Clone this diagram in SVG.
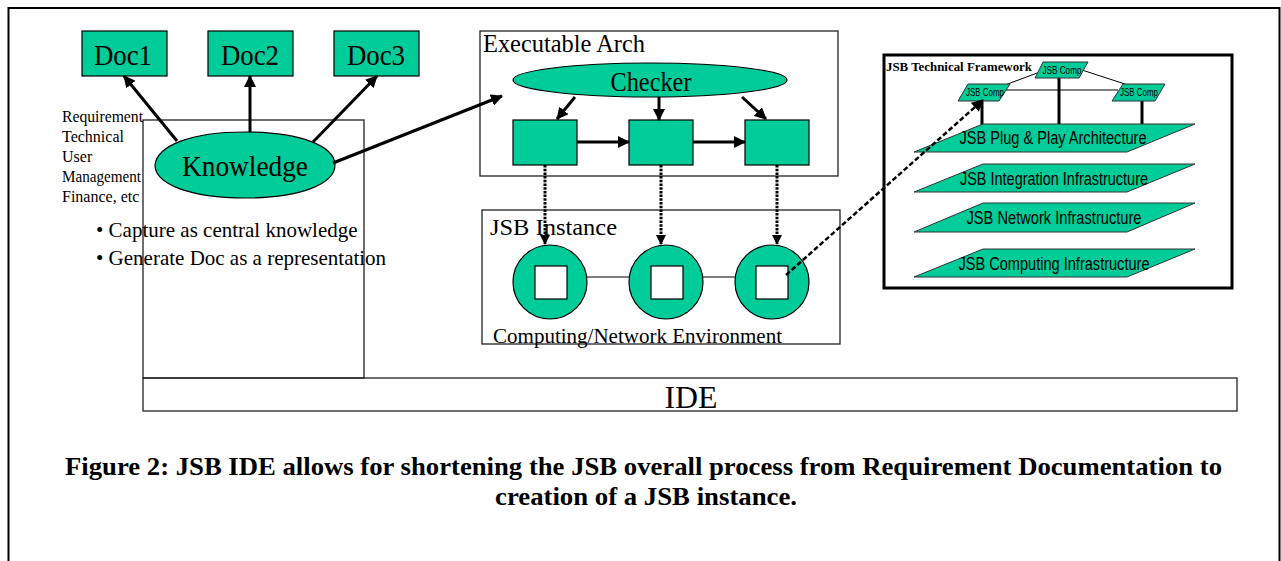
<svg xmlns="http://www.w3.org/2000/svg" width="1281" height="561" viewBox="0 0 1281 561">
<style>
.serif{font-family:"Liberation Serif","Times New Roman",serif;fill:#000}
.sans{font-family:"Liberation Sans",Arial,sans-serif;fill:#000}
.green{fill:#00CC99;stroke:#000;stroke-width:1.2}
.box{fill:none;stroke:#222;stroke-width:1.3}
.layer{fill:#00CC99;stroke:#333;stroke-width:1}
.arrow{stroke:#000;stroke-width:3;fill:none;marker-end:url(#ah)}
.dot{stroke:#000;stroke-width:3;fill:none;stroke-dasharray:2.5 1.2;marker-end:url(#ah2)}
.dash{stroke:#000;stroke-width:2.5;fill:none;stroke-dasharray:5 2.5;marker-end:url(#ah)}
.thin{stroke:#000;stroke-width:1;fill:none}
.thick{stroke:#000;stroke-width:3;fill:none}
</style>
<defs>
<marker id="ah" viewBox="0 0 12 12" refX="11" refY="6" markerWidth="12" markerHeight="12" markerUnits="userSpaceOnUse" orient="auto"><path d="M0,0 L12,6 L0,12 z" fill="#000"/></marker>
<marker id="ah2" viewBox="0 0 10 10" refX="9" refY="5" markerWidth="10" markerHeight="10" markerUnits="userSpaceOnUse" orient="auto"><path d="M0,0 L10,5 L0,10 z" fill="#000"/></marker>
</defs>
<rect width="1281" height="561" fill="#fff"/>
<path d="M8.5,561 V8 H1279.5 V561" fill="none" stroke="#000" stroke-width="2"/>

<g id="ide-left-box"><rect class="box" x="143" y="120" width="221" height="258"/></g>
<g id="ide"><rect class="box" x="143" y="378" width="1094" height="33"/>
<text class="serif" x="691" y="408" font-size="32" text-anchor="middle" textLength="53" lengthAdjust="spacingAndGlyphs">IDE</text></g>

<g id="doc1"><rect class="green" x="82" y="31" width="85" height="45"/><text class="serif" x="123" y="65" font-size="30" text-anchor="middle" textLength="58" lengthAdjust="spacingAndGlyphs">Doc1</text></g>
<g id="doc2"><rect class="green" x="208" y="31" width="85" height="45"/><text class="serif" x="250" y="65" font-size="30" text-anchor="middle" textLength="58" lengthAdjust="spacingAndGlyphs">Doc2</text></g>
<g id="doc3"><rect class="green" x="334" y="31" width="85" height="45"/><text class="serif" x="376" y="65" font-size="30" text-anchor="middle" textLength="58" lengthAdjust="spacingAndGlyphs">Doc3</text></g>

<g id="req-labels" class="serif" font-size="16">
<text x="62" y="122" textLength="81" lengthAdjust="spacingAndGlyphs">Requirement</text>
<text x="62" y="142">Technical</text>
<text x="62" y="162">User</text>
<text x="62" y="182" textLength="79" lengthAdjust="spacingAndGlyphs">Management</text>
<text x="62" y="202">Finance, etc</text>
</g>

<g id="knowledge"><path class="green" d="M155,165 C157,146 190,132 245,132 C300,132 335,146 335,165 C335,184 300,198 245,198 C190,198 155,184 155,165 Z"/>
<text class="serif" x="245" y="176" font-size="30" text-anchor="middle" textLength="126" lengthAdjust="spacingAndGlyphs">Knowledge</text></g>

<g id="bullets" class="serif" font-size="21">
<text x="96" y="237">• Capture as central knowledge</text>
<text x="96" y="265">• Generate Doc as a representation</text>
</g>

<g id="exec-arch"><rect class="box" x="480" y="31" width="358" height="145"/>
<text class="serif" x="483" y="52" font-size="25" textLength="162" lengthAdjust="spacingAndGlyphs">Executable Arch</text></g>
<g id="checker"><ellipse class="green" cx="650" cy="80" rx="137" ry="17"/>
<text class="serif" x="651" y="91" font-size="27" text-anchor="middle" textLength="81" lengthAdjust="spacingAndGlyphs">Checker</text></g>
<g id="comp1"><rect class="green" x="513" y="120" width="64" height="45"/></g>
<g id="comp2"><rect class="green" x="629" y="120" width="64" height="45"/></g>
<g id="comp3"><rect class="green" x="745" y="120" width="64" height="45"/></g>

<g id="jsb-instance"><rect class="box" x="482" y="210" width="358" height="134"/>
<text class="serif" x="490" y="235" font-size="24" textLength="127" lengthAdjust="spacingAndGlyphs">JSB Instance</text>
<line class="thin" x1="587" y1="277" x2="630" y2="277"/>
<line class="thin" x1="703" y1="277" x2="735" y2="277"/>
<text class="serif" x="493" y="343" font-size="21" textLength="289" lengthAdjust="spacingAndGlyphs">Computing/Network Environment</text></g>
<g id="node1"><circle class="green" cx="550" cy="282" r="37"/><rect x="535" y="266" width="32" height="33" fill="#fff" stroke="#000" stroke-width="1.2"/></g>
<g id="node2"><circle class="green" cx="666" cy="282" r="37"/><rect x="651" y="266" width="32" height="33" fill="#fff" stroke="#000" stroke-width="1.2"/></g>
<g id="node3"><circle class="green" cx="772" cy="282" r="37"/><rect x="756" y="266" width="32" height="33" fill="#fff" stroke="#000" stroke-width="1.2"/></g>

<g id="tech-framework">
<rect x="884" y="55" width="348" height="233" fill="none" stroke="#000" stroke-width="3"/>
<text class="serif" x="886" y="71" font-size="13" font-weight="bold" textLength="146" lengthAdjust="spacingAndGlyphs">JSB Technical Framework</text>
<line class="thin" x1="1040" y1="72" x2="1005" y2="85"/>
<line class="thin" x1="1082" y1="70" x2="1128" y2="85"/>
<line class="thin" x1="1004" y1="90" x2="1118" y2="90"/>
<line class="thick" x1="982" y1="100" x2="982" y2="125"/>
<line class="thick" x1="1059" y1="77" x2="1059" y2="125"/>
<line class="thick" x1="1142" y1="100" x2="1142" y2="125"/>
<g id="comp-top"><polygon class="layer" points="1043,62 1088,62 1079,78 1035,78"/><text class="sans" x="1062" y="74" font-size="10" text-anchor="middle" textLength="39" lengthAdjust="spacingAndGlyphs">JSB Comp</text></g>
<g id="comp-left"><polygon class="layer" points="968,84 1010,84 999,101 958,101"/><text class="sans" x="985" y="96" font-size="10" text-anchor="middle" textLength="38" lengthAdjust="spacingAndGlyphs">JSB Comp</text></g>
<g id="comp-right"><polygon class="layer" points="1123,84 1165,84 1155,101 1112,101"/><text class="sans" x="1139" y="96" font-size="10" text-anchor="middle" textLength="38" lengthAdjust="spacingAndGlyphs">JSB Comp</text></g>
<g id="layer-pnp"><polygon class="layer" points="983,124 1195,124 1127,152 914,152"/><text class="sans" x="1053" y="144" font-size="18" text-anchor="middle" textLength="187" lengthAdjust="spacingAndGlyphs">JSB Plug &amp; Play Architecture</text></g>
<g id="layer-int"><polygon class="layer" points="983,164 1195,164 1127,192 914,192"/><text class="sans" x="1054" y="185" font-size="18" text-anchor="middle" textLength="188" lengthAdjust="spacingAndGlyphs">JSB Integration Infrastructure</text></g>
<g id="layer-net"><polygon class="layer" points="983,203 1195,203 1127,232 914,232"/><text class="sans" x="1054" y="224" font-size="18" text-anchor="middle" textLength="175" lengthAdjust="spacingAndGlyphs">JSB Network Infrastructure</text></g>
<g id="layer-comp"><polygon class="layer" points="983,249 1195,249 1127,277 914,277"/><text class="sans" x="1054" y="270" font-size="18" text-anchor="middle" textLength="191" lengthAdjust="spacingAndGlyphs">JSB Computing Infrastructure</text></g>
</g>

<g id="connectors">
<line class="arrow" x1="177" y1="141" x2="124" y2="76"/>
<line class="arrow" x1="250" y1="132" x2="250" y2="76"/>
<line class="arrow" x1="313" y1="142" x2="377" y2="76"/>
<line class="arrow" x1="333" y1="163" x2="502" y2="96"/>
<line class="arrow" x1="575" y1="97" x2="557" y2="119"/>
<line class="arrow" x1="659" y1="97" x2="659" y2="120"/>
<line class="arrow" x1="742" y1="97" x2="766" y2="119"/>
<line class="arrow" x1="577" y1="142" x2="629" y2="142"/>
<line class="arrow" x1="693" y1="142" x2="745" y2="142"/>
<line class="dot" x1="545" y1="165" x2="545" y2="244"/>
<line class="dot" x1="661" y1="165" x2="661" y2="244"/>
<line class="dot" x1="777" y1="165" x2="777" y2="244"/>
<line class="dash" x1="786" y1="275" x2="983" y2="100"/>
</g>

<g id="caption" class="serif" font-weight="bold" font-size="25">
<text x="643.5" y="475" text-anchor="middle" textLength="1157" lengthAdjust="spacingAndGlyphs">Figure 2: JSB IDE allows for shortening the JSB overall process from Requirement Documentation to</text>
<text x="646" y="505" text-anchor="middle" textLength="302" lengthAdjust="spacingAndGlyphs">creation of a JSB instance.</text>
</g>
</svg>
